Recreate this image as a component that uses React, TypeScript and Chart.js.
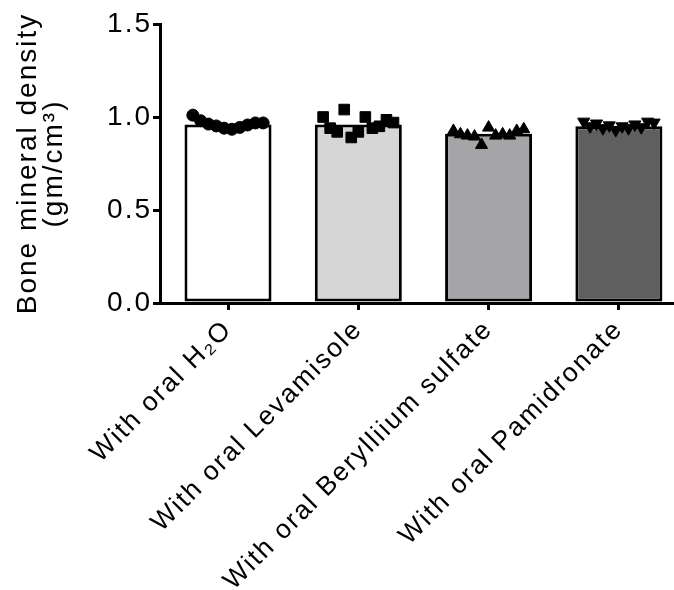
import React, { useEffect, useRef } from 'react';
import { Chart, registerables } from 'chart.js';

Chart.register(...registerables);

// ---- data ----
const categories = [
  'With oral H₂O',
  'With oral Levamisole',
  'With oral Berylliium sulfate',
  'With oral Pamidronate',
];
const barMeans = [0.96, 0.96, 0.91, 0.95];
const h2oPoints = [1.01, 0.98, 0.962, 0.952, 0.94, 0.934, 0.944, 0.957, 0.968, 0.968];
const levamisolePoints = [1.0, 0.94, 0.92, 1.04, 0.89, 0.92, 1.0, 0.94, 0.95, 0.985, 0.97];
const berylliumPoints = [0.925, 0.907, 0.9, 0.895, 0.85, 0.943, 0.9, 0.907, 0.9, 0.925, 0.934];
const pamidronatePoints = [0.975, 0.95, 0.965, 0.94, 0.955, 0.93, 0.95, 0.94, 0.96, 0.945, 0.975, 0.97];
const yTickValues = [0, 0.5, 1.0, 1.5];
const yTitle = ['Bone mineral density', '(gm/cm³)'];

// ---- styles ----
const barColors = ['#ffffff', '#d6d6d6', '#a5a5a8', '#5f5f5f'];
const FONT_FAMILY = '"Liberation Sans", Arial, Helvetica, sans-serif';
const FONT_SIZE = 28;
const X_FONT_SIZE = 26.5;
const LETTER_SPACING = '2px';
const SPREAD = 0.27;

function spreadPoints(values: number[], groupIndex: number) {
  const n = values.length;
  return values.map((v, j) => ({
    x: groupIndex + (n > 1 ? -SPREAD + (2 * SPREAD * j) / (n - 1) : 0),
    y: v,
  }));
}

const spacingPlugin = {
  id: 'letterSpacing',
  beforeUpdate(chart: any) {
    chart.ctx.letterSpacing = LETTER_SPACING;
  },
  beforeLayout(chart: any) {
    chart.ctx.letterSpacing = LETTER_SPACING;
  },
  beforeDraw(chart: any) {
    chart.ctx.letterSpacing = LETTER_SPACING;
  },
};

export default function App() {
  const ref = useRef<HTMLCanvasElement | null>(null);

  useEffect(() => {
    document.body.style.margin = '0';
    if (!ref.current) return;
    const font = { family: FONT_FAMILY, size: FONT_SIZE };
    const pointBase = {
      type: 'scatter',
      backgroundColor: '#000',
      borderColor: '#000',
      borderWidth: 1,
      order: 0,
    };
    const chart = new Chart(ref.current, {
      type: 'bar',
      data: {
        datasets: [
          { ...pointBase, data: spreadPoints(h2oPoints, 0), pointStyle: 'circle', pointRadius: 6 } as any,
          { ...pointBase, data: spreadPoints(levamisolePoints, 1), pointStyle: 'rect', pointRadius: 7.5 } as any,
          { ...pointBase, data: spreadPoints(berylliumPoints, 2), pointStyle: 'triangle', pointRadius: 7 } as any,
          { ...pointBase, data: spreadPoints(pamidronatePoints, 3), pointStyle: 'triangle', rotation: 180, pointRadius: 7 } as any,
          {
            type: 'bar',
            data: barMeans.map((v, i) => ({ x: i, y: v })),
            backgroundColor: barColors,
            borderColor: '#000',
            borderWidth: 3,
            borderSkipped: false,
            barPercentage: 0.668,
            categoryPercentage: 1,
            order: 1,
          } as any,
        ],
      },
      options: {
        animation: false,
        responsive: false,
        devicePixelRatio: 1,
        layout: { autoPadding: false, padding: { top: 24, left: 0, right: 0, bottom: 0 } },
        plugins: {
          legend: { display: false },
          tooltip: { enabled: false },
        },
        scales: {
          x: {
            type: 'linear',
            min: -0.522,
            max: 3.423,
            offset: false,
            grid: {
              offset: false,
              drawOnChartArea: false,
              drawTicks: true,
              tickLength: 7,
              lineWidth: 3,
              color: '#000',
            },
            border: { display: true, color: '#000', width: 3 },
            afterBuildTicks: (scale: any) => {
              scale.ticks = categories.map((_, i) => ({ value: i }));
            },
            afterFit: (scale: any) => {
              scale.height = 287;
              scale.paddingLeft = 0;
              scale.paddingRight = 0;
            },
            ticks: {
              autoSkip: false,
              minRotation: 45,
              maxRotation: 45,
              padding: 4,
              color: '#000',
              font: { family: FONT_FAMILY, size: X_FONT_SIZE },
              callback: (v: any) => categories[Number(v)] ?? '',
            },
          },
          y: {
            type: 'linear',
            min: 0,
            max: 1.5,
            grid: {
              drawOnChartArea: false,
              drawTicks: true,
              tickLength: 7,
              lineWidth: 3,
              color: '#000',
            },
            border: { display: true, color: '#000', width: 3 },
            afterBuildTicks: (scale: any) => {
              scale.ticks = yTickValues.map((v) => ({ value: v }));
            },
            afterFit: (scale: any) => {
              scale.width = 160;
            },
            ticks: {
              padding: 1,
              color: '#000',
              font,
              callback: (v: any) => Number(v).toFixed(1),
            },
            title: {
              display: true,
              text: yTitle,
              color: '#000',
              font: { family: FONT_FAMILY, size: FONT_SIZE, lineHeight: 0.9 },
              padding: { top: 16, bottom: 0 },
            },
          },
        },
      } as any,
      plugins: [spacingPlugin],
    });
    return () => chart.destroy();
  }, []);

  return (
    <div style={{ width: 674, height: 590 }}>
      <canvas ref={ref} width={674} height={590} style={{ display: 'block', width: 674, height: 590 }} />
    </div>
  );
}
